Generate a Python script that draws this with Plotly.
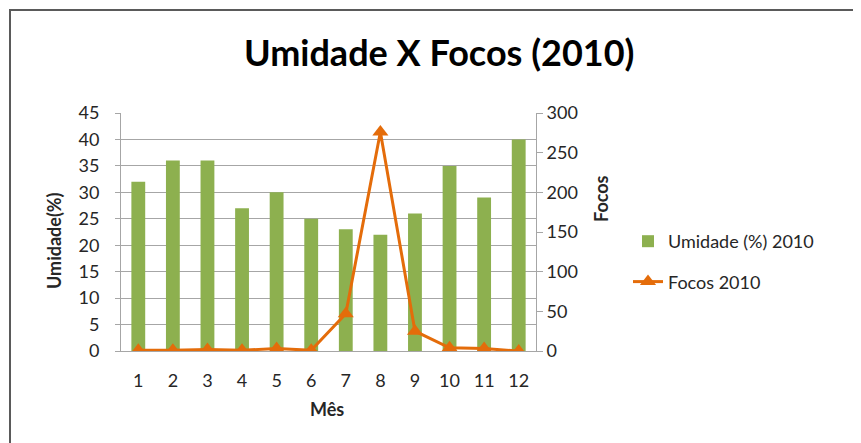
import plotly.graph_objects as go

meses = ["1", "2", "3", "4", "5", "6", "7", "8", "9", "10", "11", "12"]
umidade = [32, 36, 36, 27, 30, 25, 23, 22, 26, 35, 29, 40]
focos = [1, 1, 2, 1, 3, 1, 47, 276, 25, 4, 3, 0]

FONT = "Lato, 'Liberation Sans', sans-serif"
GREEN = "#8DB04F"
ORANGE = "#E46C0A"
GRID = "#A6A6A6"

# page body has an 8px margin; work in page coordinates and convert
O = 8
W, H = 861 - O, 443 - O
PL, PR, PT, PB = 121, 536, 113, 351  # plot box in page pixels
L = PL - O
T = PT - O
R = W - (PR - O)
B = H - (PB - O)
pw, ph = PR - PL, PB - PT


def px(x):
    return (x - PL) / pw


def py(y):
    return (PB - y) / ph


fig = go.Figure()
fig.add_trace(go.Bar(
    x=meses, y=umidade, name="Umidade (%) 2010",
    marker=dict(color=GREEN, line=dict(width=0)),
    width=0.4, legendgroup="a",
))
fig.add_trace(go.Scatter(
    x=meses, y=focos, name="Focos 2010", yaxis="y2",
    mode="lines+markers",
    line=dict(color=ORANGE, width=3),
    marker=dict(symbol="triangle-up", size=14, color=ORANGE),
    legendgroup="b",
))


def ann(text, x, y, size, angle=0, color="#262626"):
    return dict(text=text, x=px(x), y=py(y), xref="paper", yref="paper",
                xanchor="center", yanchor="middle", showarrow=False,
                textangle=angle, font=dict(size=size, color=color, family=FONT))


fig.update_layout(
    width=W, height=H,
    margin=dict(l=L, r=R, t=T, b=B, autoexpand=False),
    paper_bgcolor="white", plot_bgcolor="white",
    font=dict(family=FONT, size=18, color="#262626"),
    showlegend=True,
    legend=dict(
        x=px(628), y=py(223), xanchor="left", yanchor="top",
        font=dict(size=18, color="#262626"),
        tracegroupgap=14, bgcolor="rgba(0,0,0,0)",
    ),
    xaxis=dict(
        type="category", range=[-0.5, 11.5], showgrid=False,
        showline=True, linecolor=GRID, linewidth=1,
        ticks="", ticklabelstandoff=13,
        tickfont=dict(size=18, color="#262626"),
    ),
    yaxis=dict(
        range=[0, 45], dtick=5, showgrid=True, gridcolor=GRID, gridwidth=1,
        showline=True, linecolor=GRID, linewidth=1,
        ticks="outside", ticklen=5, tickcolor=GRID,
        ticklabelstandoff=12,
        tickfont=dict(size=18, color="#262626"),
        zeroline=False,
    ),
    yaxis2=dict(
        range=[0, 300], dtick=50, overlaying="y", side="right",
        showgrid=False, showline=True, linecolor=GRID, linewidth=1,
        ticks="outside", ticklen=6, tickcolor=GRID,
        ticklabelstandoff=0,
        tickfont=dict(size=18, color="#262626"),
        zeroline=False,
    ),
    annotations=[
        ann("<b>Umidade X Focos (2010)</b>", 439, 52, 36, color="black"),
        ann("<b>Umidade(%)</b>", 54, 241, 18, angle=-90),
        ann("<b>Focos</b>", 601, 199, 18, angle=-90),
        ann("<b>Mês</b>", 327, 409, 18),
    ],
    shapes=[
        dict(type="rect", xref="paper", yref="paper",
             x0=px(10), x1=px(861 + 20), y0=py(443 + 20), y1=py(10),
             line=dict(color="#5A5A5A", width=2), fillcolor="rgba(0,0,0,0)",
             layer="below"),
    ],
)

fig.write_html("out.html")
